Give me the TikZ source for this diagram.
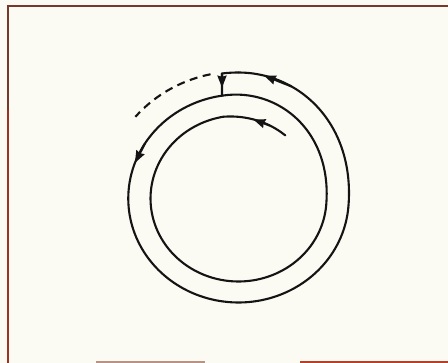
\documentclass[tikz,border=0pt]{standalone}
\usetikzlibrary{arrows.meta,calc}
\definecolor{paper}{HTML}{FCFBF3}
\definecolor{frametop}{HTML}{76382A}
\definecolor{frameleft}{HTML}{9C3222}
\definecolor{framebotA}{HTML}{B89285}
\definecolor{framebotB}{HTML}{B8402A}
\definecolor{ink}{HTML}{141414}
\tikzset{
  track/.style={draw=ink, line width=2.1pt, line cap=round, line join=round},
  ghost/.style={draw=ink, line width=2.1pt, dash pattern=on 8pt off 5.5pt},
  tip/.style={draw=ink, line width=2.1pt, -{Stealth[length=12pt,width=9pt,inset=1pt]}},
  framebar/.style={line width=2pt},
}
\begin{document}
\begin{tikzpicture}[x=1pt,y=-1pt]
\def\cx{238.5}\def\cy{198.5}\def\ax{1.06}
\useasboundingbox (0,0) rectangle (448,363);
\fill[paper] (0,0) rectangle (448,363);
% frame
\draw[framebar, frametop] (6.5,6.5) -- (448,6.5);
\draw[framebar, frametop] (7.5,6.5) -- (7.5,110);
\draw[framebar, frameleft] (7.5,110) -- (7.5,363);
\draw[framebar, framebotA] (96,362) -- (205,362);
\draw[framebar, framebotB] (300,362) -- (448,362);
% spiral track, turn 1
\draw[track] plot[domain=55:100, samples=30, variable=\t]
  ({\cx+\ax*(77+6*(\t-55)/45)*cos(\t)}, {\cy-(77+6*(\t-55)/45)*sin(\t)});
\draw[track] plot[domain=100:355, samples=120, variable=\t]
  ({\cx+\ax*83*cos(\t)}, {\cy-83*sin(\t)});
\draw[track] plot[domain=0:1, samples=60, variable=\s]
  ({\cx+\ax*(83+10.5*(1-cos(180*\s)))*cos(355+100*\s)}, {\cy-(83+10.5*(1-cos(180*\s)))*sin(355+100*\s)});
\draw[track] plot[domain=95:98.6, samples=4, variable=\t]
  ({\cx+\ax*104*cos(\t)}, {\cy-104*sin(\t)});
% turn 2
\draw[track] plot[domain=98.6:355, samples=120, variable=\t]
  ({\cx+\ax*104*cos(\t)}, {\cy-104*sin(\t)});
\draw[track] plot[domain=0:1, samples=60, variable=\s]
  ({\cx+\ax*(104+11*(1-cos(180*\s)))*cos(355+95*\s)}, {\cy-(104+11*(1-cos(180*\s)))*sin(355+95*\s)});
\draw[track] plot[domain=90:97.1, samples=6, variable=\t]
  ({\cx+\ax*126*cos(\t)}, {\cy-126*sin(\t)});
% jump back one track
\coordinate (jtop) at ({\cx+\ax*126*cos(97.1)}, {\cy-126*sin(97.1)});
\coordinate (jbot) at ({\cx+\ax*104*cos(98.6)}, {\cy-104*sin(98.6)});
\coordinate (jmid) at ($ (jtop)!0.64!(jbot) $);
\draw[track] (jtop) -- (jbot);
% dashed continuation
\draw[ghost] plot[domain=102:140, samples=40, variable=\t]
  ({\cx+\ax*127*cos(\t)}, {\cy-127*sin(\t)});
% arrowheads
\coordinate (a1s) at ({\cx+\ax*78.7*cos(68)}, {\cy-78.7*sin(68)});
\coordinate (a1e) at ({\cx+\ax*80.3*cos(80)}, {\cy-80.3*sin(80)});
\draw[tip] (a1s) -- (a1e);
\coordinate (a2s) at ({\cx+\ax*122.7*cos(66)}, {\cy-122.7*sin(66)});
\coordinate (a2e) at ({\cx+\ax*125.3*cos(79)}, {\cy-125.3*sin(79)});
\draw[tip] (a2s) -- (a2e);
\coordinate (a3s) at ({\cx+\ax*104*cos(148)}, {\cy-104*sin(148)});
\coordinate (a3e) at ({\cx+\ax*104*cos(160)}, {\cy-104*sin(160)});
\draw[tip] (a3s) -- (a3e);
\draw[tip] (jtop) -- (jmid);
\end{tikzpicture}
\end{document}
